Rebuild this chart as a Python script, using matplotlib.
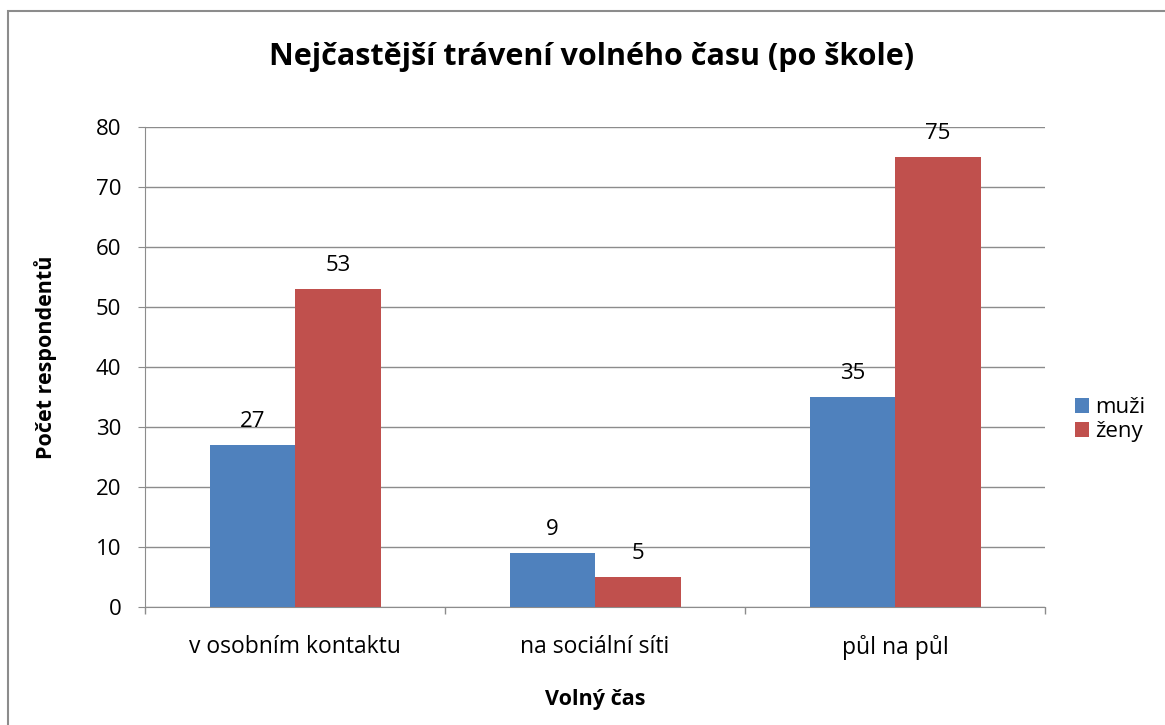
import numpy as np
import matplotlib.pyplot as plt
from matplotlib.patches import Rectangle

plt.rcParams['font.family'] = ['Open Sans', 'DejaVu Sans']

kategorie = ['v osobním kontaktu', 'na sociální síti', 'půl na půl']
muzi = [27, 9, 35]
zeny = [53, 5, 75]
yticks = [0, 10, 20, 30, 40, 50, 60, 70, 80]

modra = '#4F81BD'
cervena = '#C0504D'

fig = plt.figure(figsize=(11.65, 7.25), dpi=100)
ax = fig.add_axes([0.1245, 0.163, 0.7725, 0.662])

# ramecek grafu
fig.patches.append(Rectangle((8 / 1165, -0.05), 1.2, 1 - 11 / 725 + 0.05,
                             transform=fig.transFigure, fill=False,
                             edgecolor='#8c8c8c', linewidth=1.5))

x = np.arange(len(kategorie))
w = 0.285
b1 = ax.bar(x - w / 2, muzi, w, color=modra, label='muži', zorder=3)
b2 = ax.bar(x + w / 2, zeny, w, color=cervena, label='ženy', zorder=3)

for bars, vals in ((b1, muzi), (b2, zeny)):
    for r, v in zip(bars, vals):
        ax.text(r.get_x() + r.get_width() / 2, v + 2.2, str(v),
                ha='center', va='bottom', fontsize=16)

ax.set_xlim(-0.5, 2.5)
ax.set_ylim(0, 80)
ax.set_yticks(yticks)
ax.yaxis.grid(True, color='#8c8c8c', linewidth=1, zorder=0)
ax.set_xticks(x)
ax.set_xticklabels(kategorie, fontsize=16.5)
ax.set_xticks([-0.5, 0.5, 1.5, 2.5], minor=True)
ax.tick_params(axis='x', which='major', length=0, pad=20)
ax.tick_params(axis='x', which='minor', length=5, color='#8c8c8c', width=1)
ax.tick_params(axis='y', labelsize=16, length=5, color='#8c8c8c', pad=12)

for s in ('top', 'right'):
    ax.spines[s].set_visible(False)
for s in ('left', 'bottom'):
    ax.spines[s].set_color('#8c8c8c')

ax.set_ylabel('Počet respondentů', fontsize=15.5, fontweight='bold', va='center')
ax.yaxis.set_label_coords(-0.111, 0.52)
ax.set_xlabel('Volný čas', fontsize=15.5, fontweight='bold', va='center')
ax.xaxis.set_label_coords(0.5, -0.1935)
fig.text(0.508, 0.921, 'Nejčastější trávení volného času (po škole)',
         ha='center', va='center', fontsize=22, fontweight='bold')

ax.legend(loc='center left', bbox_to_anchor=(1.011, 0.39), frameon=False,
          fontsize=16, handlelength=0.65, handleheight=0.65, handletextpad=0.28,
          labelspacing=0.15)

fig.savefig('out.png', dpi=100)
